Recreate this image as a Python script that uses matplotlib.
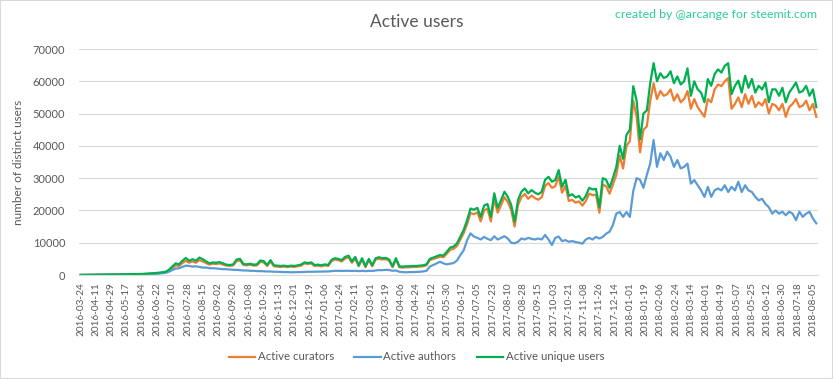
import numpy as np
import pandas as pd
import matplotlib
matplotlib.use("Agg")
import matplotlib.pyplot as plt
import matplotlib.dates as mdates
from matplotlib.patches import Rectangle

# ---------------- data (one sample every 4 days from 2016-03-24) ----------------
start_date = "2016-03-24"
step_days = 4

unique_users = [
    30, 40, 50, 60, 70, 80, 90, 100, 110, 130, 150, 170, 190, 210, 230, 250, 270, 300, 330, 380,
    450, 520, 600, 700, 850, 1000, 1600, 2600, 3600, 3300, 4400, 5300, 4400, 4900, 4400, 5400, 4900,
    4200, 3600, 3900, 3800, 4000, 3600, 3200, 3100, 3300, 4800, 5000, 3400, 3300, 3500, 3200, 3300,
    4500, 4300, 3100, 4600, 3000, 2900, 2800, 2900, 2700, 2900, 2800, 3000, 3200, 3900, 3700, 3900,
    3100, 3200, 3000, 3300, 3100, 4700, 5200,
    5000, 4600, 5600, 6000, 4200, 5600, 3000, 5200, 2700, 5000, 3000, 5200, 5500, 5200, 5300, 4800,
    2700, 5200, 2700, 2600, 2700, 2700, 2800, 2800, 2900, 3000, 3300, 5000, 5400, 5800, 6200, 6000,
    7200, 8500, 8800, 9800, 11900, 14000, 17000, 20600, 20200, 20800, 18000, 21500, 22000, 18000,
    25300, 20800, 23200, 25800, 24200, 21700, 16500, 23200, 25800, 26800, 25300, 26300, 25500, 25000,
    25800, 29500, 30400, 28900, 29400, 32500, 27300, 29500, 24500, 25000, 24000, 24500, 23000, 24500,
    27000, 26500, 26700, 21000, 30000, 29500, 27000, 30000, 33500, 40000, 36000, 43400, 45000, 58500,
    54000, 42000, 50000, 51000, 59400, 65600, 60000, 62500, 61000, 61500, 63100, 59400, 61500, 59000,
    60000, 64000, 55500, 60000, 57500, 56500, 53500, 60700, 58600, 62200, 63700, 62700, 64800, 65600,
    56000, 58600, 60200, 56500, 61700, 58000, 60700, 56500, 58600, 57500, 59600, 53500, 57500, 57500,
    55500, 58000, 53500, 56500, 58000, 59600, 56500, 57000, 58600, 55500, 57500, 52000,
]

curators = [
    10, 20, 30, 40, 50, 60, 70, 80, 90, 100, 120, 130, 150, 160, 180, 200, 210, 230, 260, 290,
    350, 400, 460, 540, 650, 800, 1300, 2100, 3000, 2800, 3700, 4400, 3800, 4200, 3800, 4600, 4200,
    3700, 3200, 3500, 3400, 3600, 3200, 2900, 2800, 3000, 4300, 4500, 3100, 3000, 3200, 2900, 3000,
    4100, 3900, 2800, 4200, 2700, 2600, 2500, 2600, 2500, 2600, 2500, 2700, 2900, 3600, 3400, 3600,
    2800, 2900, 2700, 3000, 2800, 4300, 4800,
    4600, 4200, 5100, 5500, 3800, 5100, 2700, 4800, 2400, 4600, 2700, 4800, 5000, 4800, 4900, 4400,
    2400, 4800, 2400, 2300, 2400, 2400, 2500, 2500, 2600, 2700, 3000, 4600, 5000, 5300, 5700, 5500,
    6600, 7800, 8100, 9000, 11000, 13000, 15800, 19200, 18800, 19400, 16600, 20000, 20500, 16600,
    23600, 19300, 21600, 24100, 22600, 20100, 15000, 21600, 24100, 25100, 23600, 24600, 23800, 23300,
    24100, 27600, 28500, 27000, 27500, 30500, 25500, 27600, 22900, 23300, 22400, 22800, 21500, 22900,
    25200, 24700, 24900, 19300, 28000, 27500, 25200, 28000, 31000, 37000, 33000, 40000, 41500, 54000,
    49000, 38000, 45000, 46000, 54000, 59400, 54500, 57000, 55500, 56000, 57500, 54000, 56000, 53500,
    54500, 57000, 51500, 54500, 52000, 50500, 49000, 54500, 53500, 57500, 59000, 58500, 60000, 61000,
    51500, 53000, 55000, 52000, 56000, 53000, 55500, 52000, 53500, 52500, 54500, 50000, 53000, 52500,
    51000, 53000, 49000, 52000, 53000, 54500, 52000, 52500, 54000, 51000, 53000, 49000,
]

authors = [
    20, 30, 35, 40, 50, 55, 60, 70, 80, 90, 100, 110, 120, 130, 140, 150, 170, 190, 210, 240,
    290, 340, 400, 470, 550, 650, 1000, 1500, 2000, 2100, 2500, 2900, 2800, 2600, 2700, 2500, 2300,
    2300, 2100, 2100, 2000, 1900, 1800, 1800, 1700, 1600, 1600, 1500, 1400, 1400, 1300, 1300, 1200,
    1200, 1150, 1100, 1100, 1000, 1000, 950, 900, 900, 850, 850, 900, 900, 950, 1000, 1000,
    1000, 1050, 1050, 1100, 1100, 1200, 1300,
    1300, 1250, 1300, 1300, 1250, 1300, 1200, 1300, 1200, 1300, 1250, 1400, 1500, 1500, 1600, 1550,
    1300, 1400, 1000, 900, 850, 900, 900, 950, 1000, 1100, 1300, 2600, 3100, 3600, 4100, 3600,
    3300, 3500, 3700, 4500, 6200, 7700, 10800, 12900, 11900, 11500, 11000, 11800, 11200, 10800,
    12000, 11000, 11500, 12000, 11300, 10000, 9800, 10300, 11300, 11000, 11500, 11200, 11000, 11300,
    11000, 12400, 11000, 9300, 11500, 11900, 10500, 10800, 10300, 10500, 10200, 10000, 9700, 11000,
    11500, 11000, 11800, 11300, 11800, 12800, 13400, 15500, 19000, 19500, 18000, 19500, 18000, 26000,
    30000, 29500, 27000, 31000, 34500, 41800, 33500, 37700, 35600, 38200, 36600, 33500, 35600, 33000,
    33500, 34500, 28300, 29400, 27800, 26200, 24200, 27300, 24200, 26200, 26800, 26200, 27800, 25700,
    27300, 26200, 28900, 25700, 27800, 26200, 25700, 24200, 23100, 23600, 22000, 21000, 19000, 20000,
    19000, 19600, 18500, 19600, 19000, 17000, 19600, 18000, 19000, 19600, 17500, 16000,
]

series_names = ["Active curators", "Active authors", "Active unique users"]
series_colors = ["#ED7D31", "#5B9BD5", "#00B050"]

tick_start = "2016-03-24"
tick_end = "2018-08-05"
tick_step = "18D"

y_ticks = [0, 10000, 20000, 30000, 40000, 50000, 60000, 70000]

# ---------------- plot ----------------
plt.rcParams["font.family"] = ["Lato", "DejaVu Sans"]
gray = "#595959"

n = len(unique_users)
dates = pd.date_range(start_date, periods=n, freq=f"{step_days}D")

fig = plt.figure(figsize=(8.33, 3.79), dpi=100)
ax = fig.add_axes([79 / 833, 1 - 275 / 379, (818 - 79) / 833, 226 / 379])

for vals, name, col in zip([curators, authors, unique_users], series_names, series_colors):
    ax.plot(dates[:len(vals)], vals, color=col, lw=1.6, label=name, solid_joinstyle="round")

ax.set_ylim(0, 70000)
ax.set_yticks(y_ticks)
ax.set_yticklabels([str(v) for v in y_ticks], fontsize=8, color=gray)
ax.grid(axis="y", color="#d9d9d9", lw=0.8)
ax.set_axisbelow(True)

ticks = pd.date_range(tick_start, tick_end, freq=tick_step)
ax.set_xticks(ticks)
ax.set_xticklabels([t.strftime("%Y-%m-%d") for t in ticks], rotation=90, fontsize=7.2, color=gray)
ax.set_xlim(pd.Timestamp("2016-03-22"), pd.Timestamp("2018-08-11"))
ax.tick_params(length=0, pad=5)
ax.tick_params(axis="y", pad=10)

for s in ["top", "right", "left"]:
    ax.spines[s].set_visible(False)
ax.spines["bottom"].set_color("#d9d9d9")

ax.set_ylabel("number of distinct users", fontsize=8.5, color=gray, labelpad=6)

fig.text(0.5, 1 - 22 / 379, "Active users", ha="center", va="center", fontsize=12.5, color=gray)
fig.text(817 / 833, 1 - 14 / 379, "created by @arcange for steemit.com", ha="right", va="center",
         fontsize=8.9, color="#2ECC9A")

handles, labels = ax.get_legend_handles_labels()
fig.legend(handles, labels, loc="center", bbox_to_anchor=(0.5, 1 - 357 / 379), ncol=3, frameon=False,
           fontsize=8.2, labelcolor=gray, handlelength=2.3, columnspacing=1.8, handletextpad=0.25)

fig.patches.append(Rectangle((0, 0), 1, 1, transform=fig.transFigure, fill=False,
                             edgecolor="#d9d9d9", lw=1.5))

fig.savefig("out.png", dpi=100)
